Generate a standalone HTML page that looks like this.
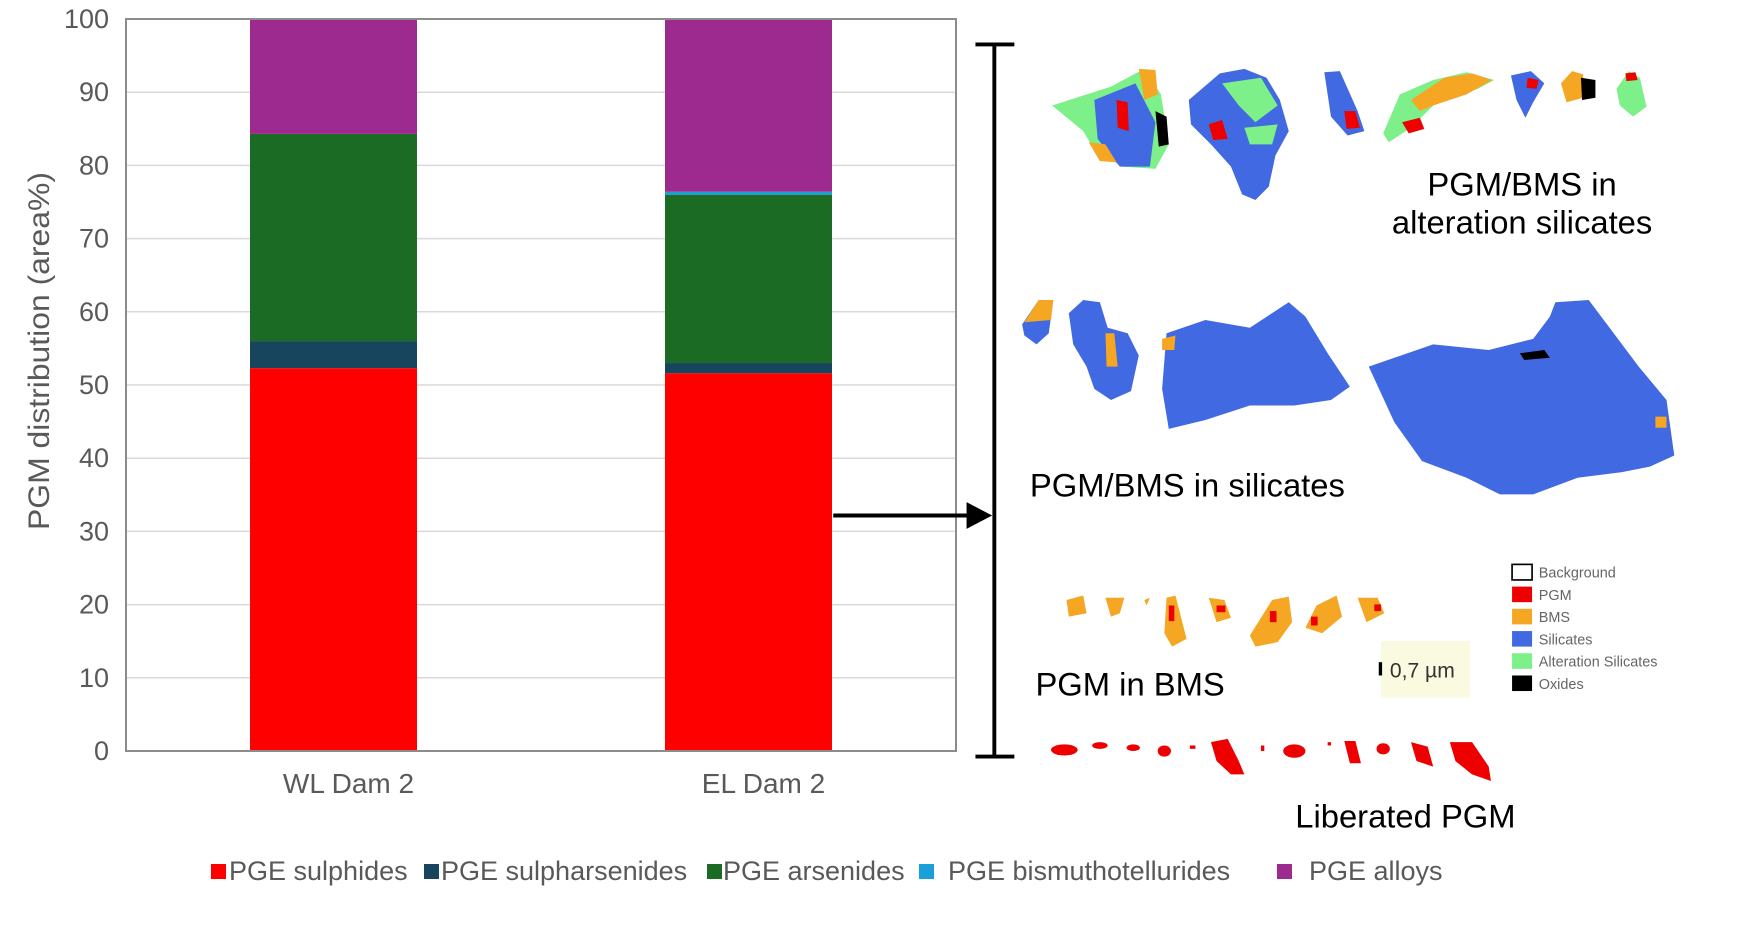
<!DOCTYPE html>
<html><head><meta charset="utf-8"><style>
html,body{margin:0;padding:0;background:#fff;}
svg{display:block;font-family:"Liberation Sans","DejaVu Sans",sans-serif;}
</style></head><body>
<svg id="root" width="1741" height="937" viewBox="0 0 1741 937" xmlns="http://www.w3.org/2000/svg">
<g id="chart"></g>
<g transform="scale(1.111)">
  <g stroke="#000" stroke-width="3.5" fill="none">
    <line x1="895" y1="40" x2="895" y2="681"/>
    <line x1="878" y1="40" x2="913" y2="40"/>
    <line x1="878" y1="681" x2="913" y2="681"/>
    <line x1="750" y1="464" x2="872" y2="464"/>
  </g>
  <polygon points="870,452 893,464 870,476" fill="#000"/>
  <g>
    <polygon points="947,95 1000,78 1030,62 1045,85 1052,130 1040,152 1010,150 985,135 975,118" fill="#7ef08a"/>
    <polygon points="985,90 1022,75 1040,110 1035,150 1008,150 988,125" fill="#4169e1"/>
    <polygon points="1025,62 1040,63 1042,85 1030,90" fill="#f5a623"/>
    <polygon points="980,128 995,130 1005,146 990,145" fill="#f5a623"/>
    <polygon points="1005,90 1015,92 1016,118 1006,115" fill="#e00"/>
    <polygon points="1040,100 1050,105 1052,130 1043,132" fill="#000"/>
    <polygon points="1070,90 1098,66 1120,62 1140,70 1152,90 1160,118 1148,140 1142,168 1130,180 1118,175 1108,150 1090,130 1072,112" fill="#4169e1"/>
    <polygon points="1100,75 1135,70 1150,95 1130,110 1115,95" fill="#7ef08a"/>
    <polygon points="1120,115 1150,112 1145,130 1125,130" fill="#7ef08a"/>
    <polygon points="1088,112 1100,108 1105,125 1092,126" fill="#e00"/>
    <polygon points="1192,65 1206,64 1222,100 1228,118 1213,122 1198,105" fill="#4169e1"/>
    <polygon points="1210,100 1220,100 1224,115 1212,116" fill="#e00"/>
    <polygon points="1245,120 1260,85 1290,72 1320,65 1345,72 1330,80 1290,95 1270,115 1250,128" fill="#7ef08a"/>
    <polygon points="1270,90 1300,70 1325,66 1343,72 1320,85 1290,95 1278,100" fill="#f5a623"/>
    <polygon points="1262,110 1278,106 1282,116 1268,120" fill="#e00"/>
    <polygon points="1360,68 1378,64 1390,75 1380,92 1373,106 1365,90" fill="#4169e1"/>
    <polygon points="1375,70 1385,72 1383,80 1374,79" fill="#e00"/>
    <polygon points="1405,75 1415,64 1425,67 1425,88 1410,92" fill="#f5a623"/>
    <polygon points="1423,70 1436,72 1436,88 1424,90" fill="#000"/>
    <polygon points="1455,80 1466,64 1476,70 1482,96 1470,105 1458,95" fill="#7ef08a"/>
    <polygon points="1463,66 1472,65 1474,72 1464,73" fill="#e00"/>
  </g>
  <text x="1370" y="176" font-size="29.5" text-anchor="middle" fill="#000">PGM/BMS in</text>
  <text x="1370" y="210" font-size="29.5" text-anchor="middle" fill="#000">alteration silicates</text>
  <g>
    <polygon points="920,292 935,270 948,270 944,300 933,310 922,302" fill="#4169e1"/>
    <polygon points="922,290 935,270 948,270 946,288" fill="#f5a623"/>
    <polygon points="962,282 975,270 990,272 997,295 1015,300 1025,320 1018,352 1000,360 985,350 978,330 966,310" fill="#4169e1"/>
    <polygon points="995,300 1003,300 1006,330 996,330" fill="#f5a623"/>
    <polygon points="1050,300 1085,288 1125,295 1160,272 1175,285 1195,318 1215,348 1198,360 1165,365 1125,365 1085,378 1052,386 1046,350" fill="#4169e1"/>
    <polygon points="1046,305 1058,302 1057,315 1046,315" fill="#f5a623"/>
    <polygon points="1232,330 1290,310 1340,315 1380,305 1395,285 1400,272 1430,270 1475,330 1500,360 1507,410 1485,420 1460,425 1420,430 1380,445 1350,445 1320,430 1280,415 1255,380" fill="#4169e1"/>
    <polygon points="1368,318 1390,315 1395,322 1372,324" fill="#000"/>
    <polygon points="1490,375 1500,375 1500,385 1490,385" fill="#f5a623"/>
  </g>
  <text x="927" y="447" font-size="29.5" fill="#000">PGM/BMS in silicates</text>
  <g fill="#f5a623">
    <polygon points="960,540 975,536 978,552 962,555"/>
    <polygon points="995,538 1012,538 1008,552 1000,555"/>
    <polygon points="1030,540 1035,538 1032,545"/>
    <polygon points="1050,538 1058,536 1068,575 1055,582 1048,570"/>
    <polygon points="1088,538 1102,540 1108,556 1095,560"/>
    <polygon points="1125,572 1145,540 1160,537 1163,560 1150,578 1130,582"/>
    <polygon points="1175,565 1185,545 1203,536 1208,555 1190,570"/>
    <polygon points="1222,538 1240,538 1246,552 1230,560"/>
  </g>
  <g fill="#e00">
    <rect x="1052" y="545" width="5" height="14"/><rect x="1095" y="545" width="8" height="6"/>
    <rect x="1143" y="550" width="6" height="10"/><rect x="1180" y="555" width="6" height="8"/><rect x="1237" y="544" width="6" height="6"/>
  </g>
  <text x="932" y="626" font-size="29.5" fill="#000">PGM in BMS</text>
  <rect x="1243" y="577" width="80" height="51" fill="#fafae0"/>
  <rect x="1241" y="596" width="3" height="12" fill="#000"/>
  <text x="1251" y="610" font-size="19" fill="#333">0,7 µm</text>
  <g fill="#e00">
    <ellipse cx="958" cy="675" rx="12" ry="5"/><ellipse cx="990" cy="671" rx="7" ry="3"/>
    <ellipse cx="1020" cy="673" rx="6" ry="3"/><ellipse cx="1048" cy="676" rx="6" ry="5"/>
    <rect x="1071" y="671" width="5" height="3"/><polygon points="1090,668 1105,665 1115,685 1120,697 1108,697 1095,685"/>
    <rect x="1135" y="671" width="3" height="5"/><ellipse cx="1165" cy="676" rx="10" ry="6"/>
    <rect x="1195" y="668" width="3" height="3"/><polygon points="1210,667 1220,667 1225,687 1215,687"/>
    <ellipse cx="1245" cy="674" rx="6" ry="5"/><polygon points="1270,668 1285,672 1290,690 1275,685"/>
    <polygon points="1305,668 1325,668 1340,690 1342,703 1325,697 1310,685"/>
  </g>
  <text x="1265" y="745" font-size="29.5" text-anchor="middle" fill="#000">Liberated PGM</text>
  <g font-size="13" fill="#666">
    <rect x="1361" y="508" width="18" height="14" fill="#fff" stroke="#000" stroke-width="1.5"/><text x="1385" y="520">Background</text>
    <rect x="1361" y="528" width="18" height="14" fill="#e00"/><text x="1385" y="540">PGM</text>
    <rect x="1361" y="548" width="18" height="14" fill="#f5a623"/><text x="1385" y="560">BMS</text>
    <rect x="1361" y="568" width="18" height="14" fill="#4169e1"/><text x="1385" y="580">Silicates</text>
    <rect x="1361" y="588" width="18" height="14" fill="#7ef08a"/><text x="1385" y="600">Alteration Silicates</text>
    <rect x="1361" y="608" width="18" height="14" fill="#000"/><text x="1385" y="620">Oxides</text>
  </g>
</g>
</svg>
<script>
const categories = ["WL Dam 2", "EL Dam 2"];
const seriesNames = ["PGE sulphides", "PGE sulpharsenides", "PGE arsenides", "PGE bismuthotellurides", "PGE alloys"];
const sulphides = [52.3, 51.6];
const sulpharsenides = [3.7, 1.4];
const arsenides = [28.3, 23.0];
const bismuthotellurides = [0.0, 0.4];
const alloys = [15.7, 23.6];
const yTicks = [0, 10, 20, 30, 40, 50, 60, 70, 80, 90, 100];

const NS = "http://www.w3.org/2000/svg";
const g = document.getElementById("chart");
const colors = ["#ff0000", "#17455e", "#1b6b25", "#1aa0d8", "#9c2a8f"];
const series = [sulphides, sulpharsenides, arsenides, bismuthotellurides, alloys];
const L = 126, R = 956, T = 19, B = 751;
const y = v => B - (v / 100) * (B - T);
const band = (R - L) / categories.length;
const barW = 167;
const xc = i => L + band * (i + 0.5);
function el(tag, attrs, parent) {
  const e = document.createElementNS(NS, tag);
  for (const k in attrs) e.setAttribute(k, attrs[k]);
  (parent || g).appendChild(e);
  return e;
}
yTicks.forEach(t => {
  const ln = el("line", {x1: L, x2: R, y1: y(t), y2: y(t), stroke: "#d9d9d9", "stroke-width": 1.5});
  
  
  const tx = el("text", {x: 109, y: y(t) + 9, "font-size": 27, fill: "#595959", "text-anchor": "end"});
  tx.textContent = t;
  
  
});
categories.forEach((c, i) => {
  let base = 0;
  series.forEach((s, k) => {
    const v = s[i];
    const r = el("rect", {x: xc(i) - barW / 2, y: y(base + v), width: barW, height: Math.max(0, y(base) - y(base + v)), fill: colors[k]});
    
    
    base += v;
  });
  const tx = el("text", {x: xc(i) + 15, y: 793, "font-size": 28, fill: "#595959", "text-anchor": "middle"});
  tx.textContent = c;
  
  
});
const frame = el("rect", {x: L, y: T, width: R - L, height: B - T, fill: "none", stroke: "#8c8c8c", "stroke-width": 2});


const yt = el("text", {x: 0, y: 0, "font-size": 30, fill: "#595959", "text-anchor": "middle", textLength: 358, lengthAdjust: "spacingAndGlyphs", transform: "translate(49,351) rotate(-90)"});
yt.textContent = "PGM distribution (area%)";


const legX = [211, 424, 707, 919, 1277];
const legTX = [229, 441, 723, 948, 1309];
seriesNames.forEach((n, k) => {
  const sq = el("rect", {x: legX[k], y: 864, width: 15, height: 15, fill: colors[k]});
  
  
  const tx = el("text", {x: legTX[k], y: 880, "font-size": 27, fill: "#595959"});
  tx.textContent = n;
  
  
});
</script>
</body></html>
